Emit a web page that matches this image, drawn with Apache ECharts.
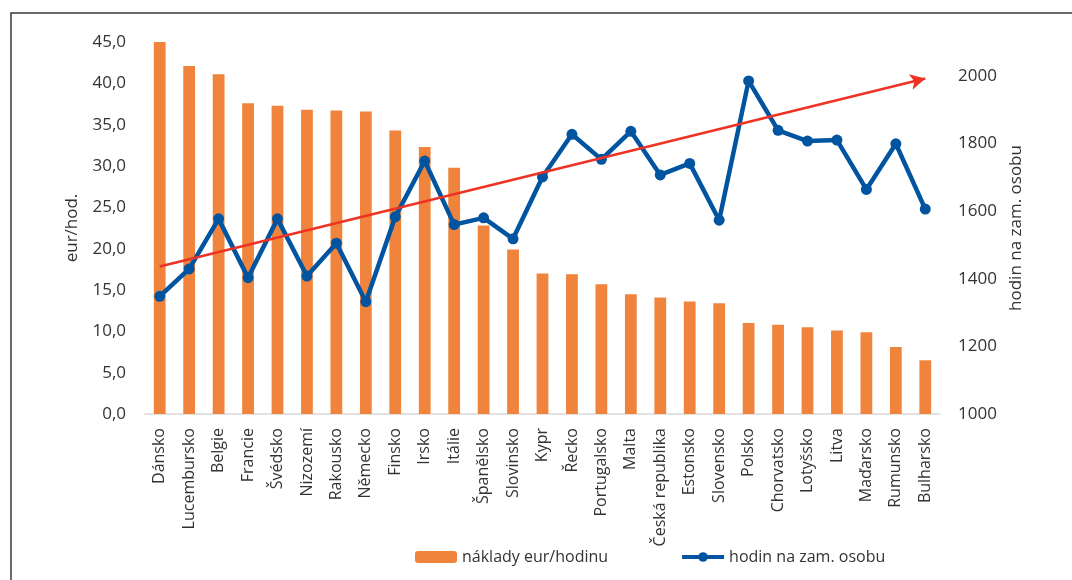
<!DOCTYPE html>
<html>
<head>
<meta charset="utf-8">
<script src="https://cdn.jsdelivr.net/npm/echarts@6/dist/echarts.min.js"></script>
<style>
  html, body { margin: 0; padding: 0; background: #fff; }
  #chart { width: 1072px; height: 580px; }
</style>
</head>
<body>
<div id="chart"></div>
<script>
// země
const countries = ['Dánsko', 'Lucembursko', 'Belgie', 'Francie', 'Švédsko', 'Nizozemí', 'Rakousko',
  'Německo', 'Finsko', 'Irsko', 'Itálie', 'Španělsko', 'Slovinsko', 'Kypr', 'Řecko', 'Portugalsko',
  'Malta', 'Česká republika', 'Estonsko', 'Slovensko', 'Polsko', 'Chorvatsko', 'Lotyšsko', 'Litva',
  'Maďarsko', 'Rumunsko', 'Bulharsko']

// náklady práce v eur za hodinu
const costPerHour = [45.0, 42.1, 41.1, 37.6, 37.3, 36.8, 36.7, 36.6, 34.3, 32.3, 29.8, 22.8, 19.9,
  17.0, 16.9, 15.7, 14.5, 14.1, 13.6, 13.4, 11.0, 10.8, 10.5, 10.1, 9.9, 8.1, 6.5]

// odpracované hodiny na zaměstnanou osobu
const hoursPerPerson = [1348, 1429, 1577, 1403, 1577, 1408, 1505, 1332, 1583, 1748, 1560, 1580, 1518,
  1701, 1827, 1753, 1836, 1707, 1741, 1573, 1985, 1839, 1807, 1810, 1664, 1799, 1606]

// trend (šipka) – začátek a konec na pravé ose
const trendStart = ['Dánsko', 1436]
const trendEnd = ['Bulharsko', 1992]

const leftTicks = { min: 0, max: 45, interval: 5 }
const rightTicks = { min: 1000, max: 2100, interval: 200 }

const FONT = 'Open Sans'
const TEXT = '#333333'

const chart = echarts.init(document.getElementById('chart'))

const option = {
  animation: false,
  textStyle: { fontFamily: FONT },
  graphic: [
    {
      type: 'polyline',
      shape: { points: [[11, 580], [11, 13], [1072, 13]] },
      style: { stroke: '#3a3a3a', lineWidth: 1.5, fill: null }
    }
  ],
  grid: { left: 145, right: 132, top: 42, bottom: 166 },
  legend: {
    bottom: 10,
    left: 410,
    itemGap: 72,
    itemWidth: 42,
    itemHeight: 12,
    textStyle: { fontFamily: FONT, fontSize: 16, color: TEXT },
    data: [
      { name: 'náklady eur/hodinu' },
      { name: 'hodin na zam. osobu', lineStyle: { width: 4 } }
    ]
  },
  xAxis: {
    type: 'category',
    data: countries,
    axisLine: { lineStyle: { color: '#d9d9d9', width: 1.5 } },
    axisTick: { show: false },
    axisLabel: {
      interval: 0,
      rotate: 90,
      margin: 14,
      fontFamily: FONT,
      fontSize: 16,
      color: TEXT
    }
  },
  yAxis: [
    {
      type: 'value',
      ...leftTicks,
      name: 'eur/hod.',
      nameLocation: 'middle',
      nameRotate: 90,
      nameGap: 64,
      nameTextStyle: { fontFamily: FONT, fontSize: 17, color: TEXT },
      axisLine: { show: false },
      axisTick: { show: false },
      splitLine: { show: false },
      axisLabel: {
        margin: 19,
        fontFamily: FONT,
        fontSize: 17,
        color: TEXT,
        formatter: v => v.toFixed(1).replace('.', ',')
      }
    },
    {
      type: 'value',
      ...rightTicks,
      position: 'right',
      name: 'hodin na zam. osobu',
      nameLocation: 'middle',
      nameRotate: 90,
      nameGap: 68,
      nameTextStyle: { fontFamily: FONT, fontSize: 17, color: TEXT },
      axisLine: { show: false },
      axisTick: { show: false },
      splitLine: { show: false },
      axisLabel: {
        margin: 18,
        showMaxLabel: false,
        fontFamily: FONT,
        fontSize: 17,
        color: TEXT,
        formatter: v => String(v)
      }
    }
  ],
  series: [
    {
      name: 'náklady eur/hodinu',
      type: 'bar',
      yAxisIndex: 0,
      barWidth: '40%',
      itemStyle: { color: '#F0843C' },
      data: costPerHour
    },
    {
      name: 'hodin na zam. osobu',
      type: 'line',
      yAxisIndex: 1,
      symbol: 'circle',
      symbolSize: 11,
      lineStyle: { color: '#0054A0', width: 4.5 },
      itemStyle: { color: '#0054A0' },
      data: hoursPerPerson,
      markLine: {
        silent: true,
        symbol: ['none', 'arrow'],
        symbolSize: [12, 15],
        label: { show: false },
        lineStyle: { color: '#EE3224', width: 2.5, type: 'solid' },
        data: [[{ coord: trendStart }, { coord: trendEnd }]]
      }
    }
  ]
}

chart.setOption(option)
</script>
</body>
</html>
